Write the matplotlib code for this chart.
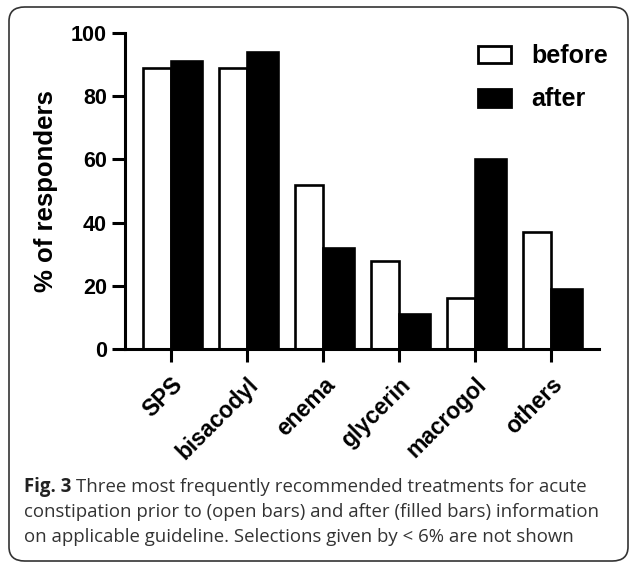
import matplotlib
matplotlib.use('Agg')
import matplotlib.pyplot as plt
from matplotlib.patches import FancyBboxPatch, Patch
import numpy as np

categories = ['SPS', 'bisacodyl', 'enema', 'glycerin', 'macrogol', 'others']
before_values = [89, 89, 52, 28, 16, 37]
after_values = [91, 94, 32, 11, 60, 19]
y_ticks = [0, 20, 40, 60, 80, 100]

plt.rcParams['font.family'] = ['Liberation Sans', 'DejaVu Sans']

W, H = 629, 563
fig = plt.figure(figsize=(W / 100, H / 100), dpi=100)
# axes: left spine at x=125, right end x=599, zero at y=349, 100 at y=33
ax = fig.add_axes([125 / W, 1 - 349 / H, (599 - 125) / W, (349 - 33) / H])

x = np.arange(len(categories))
w_before = 0.37
w_after = 0.41

ax.bar(x - w_before, before_values, width=w_before, align='edge',
       color='white', edgecolor='black', linewidth=1.9, label='before')
ax.bar(x, after_values, width=w_after, align='edge',
       color='black', edgecolor='black', linewidth=1.9, label='after')

ax.set_xlim(-0.605, 5.63)
ax.set_ylim(0, 100)
ax.set_yticks(y_ticks)
ax.set_xticks(x)
ax.set_xticklabels(categories, rotation=45, ha='right', rotation_mode='anchor',
                   fontsize=16.5, fontweight='bold')
for lbl in ax.get_yticklabels():
    lbl.set_fontsize(15.5)
    lbl.set_fontweight('bold')

ax.spines['top'].set_visible(False)
ax.spines['right'].set_visible(False)
ax.spines['left'].set_linewidth(2.2)
ax.spines['bottom'].set_linewidth(2.2)
ax.tick_params(axis='both', width=2.2, length=9.5)
ax.tick_params(axis='y', pad=3.5)
ax.tick_params(axis='x', pad=8)

ax.set_ylabel('% of responders', fontsize=18.5, fontweight='bold', labelpad=9)

handles = [Patch(facecolor='white', edgecolor='black', linewidth=2, label='before'),
           Patch(facecolor='black', edgecolor='black', linewidth=2, label='after')]
ax.legend(handles=handles, loc='upper left', bbox_to_anchor=(478 / W, 1 - 44 / H),
          bbox_transform=fig.transFigure, borderpad=0, borderaxespad=0,
          frameon=False, prop={'size': 18, 'weight': 'bold'},
          handlelength=1.32, handleheight=0.7, labelspacing=0.78, handletextpad=0.8)

# rounded frame around the figure
frame = FancyBboxPatch((9 / W, 1 - 561 / H), (628 - 9) / W, (561 - 7) / H,
                       boxstyle='round,pad=0,rounding_size=0.025',
                       transform=fig.transFigure, facecolor='none', edgecolor='#333333',
                       linewidth=1.2)
fig.patches.append(frame)

# caption
cap_font = ['Open Sans', 'DejaVu Sans']
cap_size = 13.4
cap_color = '#333333'
fig.canvas.draw()
renderer = fig.canvas.get_renderer()
bold = fig.text(24 / W, 1 - 487 / H, 'Fig. 3', fontsize=cap_size, fontweight='bold',
                family=cap_font, va='center', color='#222222')
bb = bold.get_window_extent(renderer)
space = 5
fig.text((bb.x1 + space) / W, 1 - 487 / H,
         'Three most frequently recommended treatments for acute',
         fontsize=cap_size, family=cap_font, va='center', color=cap_color)
fig.text(24 / W, 1 - 512 / H,
         'constipation prior to (open bars) and after (filled bars) information',
         fontsize=cap_size, family=cap_font, va='center', color=cap_color)
fig.text(24 / W, 1 - 537 / H,
         'on applicable guideline. Selections given by < 6% are not shown',
         fontsize=cap_size, family=cap_font, va='center', color=cap_color)

fig.savefig('out.png', dpi=100)
